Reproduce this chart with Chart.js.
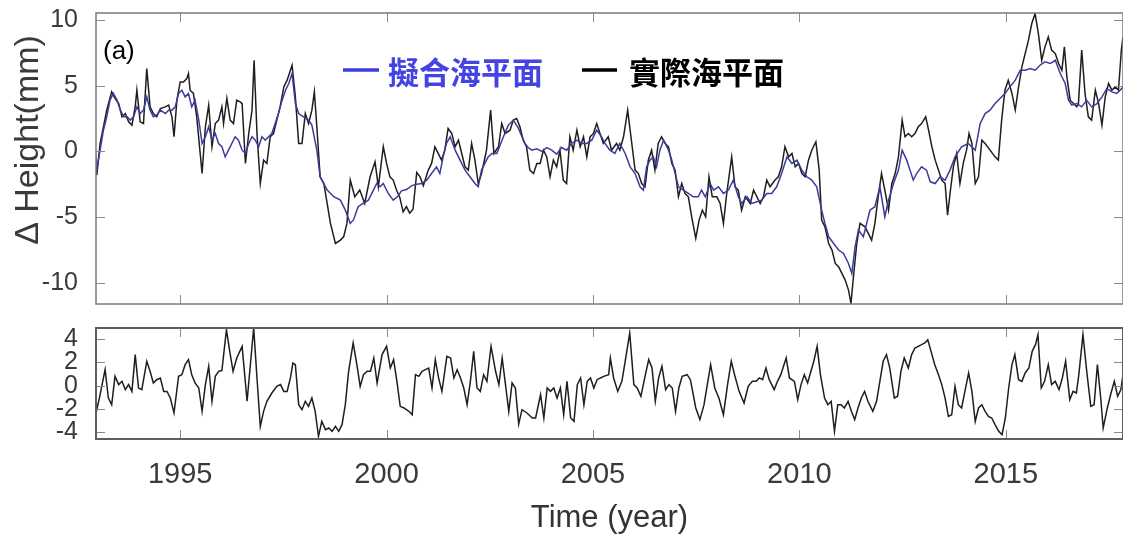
<!DOCTYPE html>
<html>
<head>
<meta charset="utf-8">
<script src="https://cdn.jsdelivr.net/npm/chart.js@4.4.1/dist/chart.umd.min.js"></script>
<style>
  html, body { margin: 0; padding: 0; background: #ffffff; }
  #wrap { position: relative; width: 1123px; height: 546px; overflow: hidden; background: #ffffff; }
  canvas { position: absolute; left: 0; }
  #topPanel { top: 0; }
  #bottomPanel { top: 310px; }
</style>
</head>
<body>
<div id="wrap">
  <canvas id="topPanel" width="1123" height="310"></canvas>
  <canvas id="bottomPanel" width="1123" height="236"></canvas>
</div>
<script>
// ---- axis ticks ----
const yearTicks = [1995, 2000, 2005, 2010, 2015];
const heightTicks = [-10, -5, 0, 5, 10];
const residualTicks = [-4, -2, 0, 2, 4];

// ---- observed sea level (mm) ----
const actualYears = [
  1992.94, 1992.98, 1993.06, 1993.14, 1993.22, 1993.34, 1993.42, 1993.51, 1993.59, 1993.67, 1993.75, 1993.83, 1993.91, 1993.95,
  1994.03, 1994.11, 1994.19, 1994.27, 1994.35, 1994.43, 1994.52, 1994.64, 1994.72, 1994.80, 1994.85, 1994.92,
  1995.00, 1995.08, 1995.16, 1995.20, 1995.24, 1995.32, 1995.40, 1995.53, 1995.61, 1995.69, 1995.77, 1995.85, 1995.93,
  1996.01, 1996.05, 1996.13, 1996.21, 1996.29, 1996.37, 1996.45, 1996.50, 1996.58, 1996.66, 1996.74, 1996.79, 1996.86, 1996.94,
  1997.02, 1997.10, 1997.18, 1997.26, 1997.34, 1997.42, 1997.51, 1997.59, 1997.71, 1997.79, 1997.87, 1997.95,
  1998.03, 1998.11, 1998.19, 1998.25, 1998.31, 1998.39, 1998.48, 1998.56, 1998.64, 1998.76, 1998.88, 1998.96,
  1999.04, 1999.12, 1999.23, 1999.35, 1999.47, 1999.60, 1999.72, 1999.80, 1999.92,
  2000.00, 2000.08, 2000.16, 2000.24, 2000.32, 2000.40, 2000.48, 2000.56, 2000.64, 2000.73, 2000.81, 2000.89,
  2001.01, 2001.09, 2001.17, 2001.25, 2001.33, 2001.41, 2001.49, 2001.58, 2001.66, 2001.74, 2001.82, 2001.90, 2001.98,
  2002.06, 2002.14, 2002.22, 2002.30, 2002.42, 2002.52, 2002.60, 2002.71, 2002.79, 2002.87, 2002.99,
  2003.07, 2003.15, 2003.23, 2003.31, 2003.39, 2003.47, 2003.56, 2003.64, 2003.72, 2003.80, 2003.88, 2003.96,
  2004.04, 2004.12, 2004.20, 2004.28, 2004.36, 2004.44, 2004.52, 2004.61, 2004.69, 2004.77, 2004.85, 2004.93,
  2005.01, 2005.09, 2005.17, 2005.25, 2005.37, 2005.45, 2005.57, 2005.65, 2005.74, 2005.84, 2005.94,
  2006.02, 2006.10, 2006.18, 2006.26, 2006.34, 2006.42, 2006.50, 2006.58, 2006.66, 2006.75, 2006.83, 2006.91, 2006.99,
  2007.07, 2007.15, 2007.23, 2007.31, 2007.39, 2007.49, 2007.57, 2007.65, 2007.73, 2007.81, 2007.89,
  2008.00, 2008.08, 2008.16, 2008.24, 2008.36, 2008.44, 2008.52, 2008.60, 2008.69, 2008.81, 2008.89, 2008.97,
  2009.05, 2009.13, 2009.21, 2009.29, 2009.41, 2009.49, 2009.57, 2009.65, 2009.74, 2009.82, 2009.90, 2009.98,
  2010.06, 2010.14, 2010.22, 2010.30, 2010.40, 2010.48, 2010.54, 2010.62, 2010.71, 2010.79, 2010.87, 2010.95,
  2011.03, 2011.11, 2011.19, 2011.25, 2011.31, 2011.39, 2011.47, 2011.59, 2011.67, 2011.75, 2011.83, 2011.91, 2011.99,
  2012.07, 2012.16, 2012.24, 2012.32, 2012.40, 2012.49, 2012.56, 2012.64, 2012.72, 2012.80, 2012.88, 2012.96,
  2013.06, 2013.13, 2013.21, 2013.29, 2013.37, 2013.45, 2013.53, 2013.59, 2013.65, 2013.73, 2013.81, 2013.89, 2013.97,
  2014.05, 2014.11, 2014.18, 2014.26, 2014.34, 2014.42, 2014.50, 2014.62, 2014.74, 2014.82, 2014.90, 2014.98,
  2015.06, 2015.15, 2015.23, 2015.31, 2015.39, 2015.47, 2015.55, 2015.63, 2015.71, 2015.79, 2015.87, 2015.95,
  2016.03, 2016.11, 2016.20, 2016.28, 2016.36, 2016.42, 2016.48, 2016.56, 2016.64, 2016.72, 2016.76, 2016.84, 2016.92,
  2017.00, 2017.08, 2017.17, 2017.25, 2017.33, 2017.41, 2017.49, 2017.57, 2017.65, 2017.73, 2017.80, 2017.84
];
const actualMm = [
  0.10, -1.80, 0.61, 1.88, 3.15, 4.54, 4.04, 3.65, 2.64, 2.89, 2.26, 2.01, 3.40, 4.67,
  2.26, 2.13, 6.32, 3.40, 2.89, 2.64, 3.27, 3.40, 3.53, 2.64, 1.12, 3.91,
  5.30, 5.30, 5.56, 5.94, 4.67, 4.42, 2.64, -1.68, 1.88, 3.53, 0.36, 2.13, 2.39,
  3.40, 2.13, 4.04, 2.39, 2.13, 3.91, 3.78, 3.65, -0.91, 1.37, 3.15, 6.95, 1.37, -2.44,
  -0.66, -0.91, 1.12, 1.37, 2.39, 3.40, 4.92, 5.43, 6.57, 4.16, 0.61, 0.61,
  2.89, 2.13, 3.15, 4.54, 1.88, -1.93, -2.44, -3.96, -5.48, -7.01, -6.75, -6.50,
  -5.48, -2.18, -3.45, -2.94, -3.96, -1.93, -0.79, -2.69, 0.36,
  -0.91, -1.93, -2.18, -2.94, -3.50, -4.60, -4.20, -4.70, -4.40, -1.60, -1.93, -2.60,
  -1.42, -0.91, 0.36, -0.15, -0.66, 0.10, 1.75, 1.37, 0.36, 0.86, -0.15, -1.17, -1.42,
  0.61, -0.66, -2.44, -1.68, 0.10, 3.15, -0.15, 0.36, 2.13, 1.37, 1.62,
  2.39, 2.51, 1.88, 0.86, 0.36, -1.42, -1.68, -0.91, -0.91, 0.10, -0.41, -1.93,
  -0.66, -1.17, 0.10, -2.18, -2.44, 1.12, 0.10, 1.62, 0.36, 1.12, -0.41, 1.12,
  1.37, 2.13, 1.37, 0.61, 1.12, 0.10, 0.61, 0.10, 1.12, 3.15, 0.61,
  -1.42, -1.68, -2.44, -2.69, -0.66, 0.10, -1.42, 0.61, 1.12, 0.61, 0.36, -0.91, -1.42,
  -3.45, -2.44, -3.20, -3.45, -4.97, -6.62, -5.23, -4.47, -4.97, -1.93, -3.45,
  -3.45, -3.96, -5.48, -3.20, -0.41, -2.69, -2.94, -4.47, -3.45, -3.96, -2.94, -3.45,
  -3.96, -3.45, -2.18, -2.69, -2.18, -1.93, -1.17, 0.36, -0.41, -0.15, -1.17, -0.91,
  -1.68, -1.93, -0.66, 0.10, 0.74, -1.42, -5.23, -5.74, -7.01, -7.51, -8.53, -8.78,
  -9.29, -9.80, -10.56, -11.57, -9.54, -7.01, -5.48, -5.74, -6.24, -6.75, -5.48, -3.45, -1.68,
  -2.94, -4.47, -2.44, -1.68, -0.41, 2.39, 1.12, 1.37, 1.12, 1.37, 1.88, 2.13,
  2.64, 1.62, 0.36, -0.66, -1.42, -2.18, -2.44, -4.85, -3.20, -1.17, -0.15, -2.44, -0.91,
  0.10, 1.37, 0.61, -2.44, -1.93, 0.86, 0.61, 0.10, -0.41, -0.66, 2.39, 4.67,
  5.43, 4.42, 3.15, 4.92, 6.45, 7.46, 8.48, 9.75, 10.51, 8.98, 6.95, 7.97,
  8.73, 7.72, 7.46, 6.70, 6.19, 7.97, 5.69, 3.91, 3.65, 3.40, 3.65, 7.72, 4.42,
  2.64, 2.39, 4.67, 3.65, 2.01, 4.16, 5.18, 4.67, 4.92, 4.67, 7.72, 8.73
];

// ---- fitted sea level (mm) ----
const fittedYears = [
  1992.94, 1992.99, 1993.06, 1993.14, 1993.22, 1993.30, 1993.38, 1993.47, 1993.55, 1993.63, 1993.71, 1993.79, 1993.87, 1993.95,
  1994.03, 1994.11, 1994.19, 1994.27, 1994.35, 1994.43, 1994.52, 1994.64, 1994.72, 1994.80, 1994.88, 1994.96,
  1995.04, 1995.12, 1995.20, 1995.28, 1995.36, 1995.45, 1995.53, 1995.61, 1995.69, 1995.77, 1995.85, 1995.93,
  1996.01, 1996.09, 1996.17, 1996.25, 1996.33, 1996.41, 1996.50, 1996.58, 1996.66, 1996.74, 1996.82, 1996.90, 1996.98,
  1997.06, 1997.14, 1997.22, 1997.30, 1997.38, 1997.47, 1997.55, 1997.63, 1997.71, 1997.79, 1997.87, 1997.99,
  1998.11, 1998.19, 1998.31, 1998.39, 1998.56, 1998.72, 1998.88, 1999.00, 1999.12, 1999.20, 1999.31, 1999.43, 1999.56,
  1999.68, 1999.76, 1999.84, 1999.92, 2000.04, 2000.16, 2000.28, 2000.36, 2000.48, 2000.61, 2000.73, 2000.85, 2000.97,
  2001.09, 2001.21, 2001.29, 2001.37, 2001.45, 2001.54, 2001.66, 2001.78, 2001.90, 2002.02, 2002.14, 2002.22, 2002.30,
  2002.38, 2002.46, 2002.55, 2002.67, 2002.83, 2002.95, 2003.07, 2003.19, 2003.27, 2003.35, 2003.43, 2003.52, 2003.64,
  2003.76, 2003.88, 2004.00, 2004.12, 2004.24, 2004.36, 2004.48, 2004.61, 2004.73, 2004.85, 2004.97, 2005.09, 2005.21,
  2005.29, 2005.41, 2005.53, 2005.65, 2005.78, 2005.90, 2006.02, 2006.14, 2006.22, 2006.30, 2006.38, 2006.46, 2006.54,
  2006.62, 2006.71, 2006.83, 2006.91, 2006.99, 2007.07, 2007.19, 2007.31, 2007.43, 2007.55, 2007.63, 2007.72, 2007.84,
  2007.92, 2008.04, 2008.16, 2008.28, 2008.40, 2008.52, 2008.60, 2008.73, 2008.85, 2008.97, 2009.09, 2009.21, 2009.33,
  2009.45, 2009.57, 2009.70, 2009.82, 2009.94, 2010.06, 2010.18, 2010.30, 2010.42, 2010.54, 2010.62, 2010.71, 2010.83,
  2010.95, 2011.07, 2011.19, 2011.27, 2011.35, 2011.43, 2011.55, 2011.71, 2011.83, 2011.95, 2012.07, 2012.16, 2012.28,
  2012.40, 2012.49, 2012.60, 2012.68, 2012.76, 2012.84, 2012.96, 2013.08, 2013.17, 2013.29, 2013.41, 2013.53, 2013.65,
  2013.77, 2013.93, 2014.09, 2014.26, 2014.38, 2014.50, 2014.62, 2014.74, 2014.86, 2014.98, 2015.10, 2015.23, 2015.35,
  2015.47, 2015.59, 2015.71, 2015.83, 2015.95, 2016.08, 2016.20, 2016.32, 2016.44, 2016.52, 2016.60, 2016.72, 2016.84,
  2016.96, 2017.08, 2017.21, 2017.33, 2017.45, 2017.57, 2017.69, 2017.77, 2017.84
];
const fittedMm = [
  -0.15, -1.17, 0.10, 1.62, 2.64, 3.91, 4.42, 3.91, 3.15, 2.64, 2.64, 2.39, 2.64, 3.40,
  2.89, 3.15, 4.16, 3.15, 2.64, 2.77, 3.15, 2.89, 3.15, 3.15, 3.40, 4.42,
  4.67, 4.16, 4.42, 3.40, 3.91, 2.39, 0.61, 1.12, 1.88, 0.86, 1.37, 0.61,
  0.36, -0.41, 0.10, 0.61, 1.12, 0.86, 0.10, -0.15, 0.61, 1.12, 0.86, 0.36, 1.12,
  0.86, 1.12, 1.37, 2.13, 2.89, 3.91, 4.67, 5.18, 5.94, 3.65, 2.89, 2.64,
  2.39, 2.01, 0.10, -1.93, -2.94, -3.45, -3.71, -4.47, -5.48, -5.20, -4.21, -3.96, -3.71,
  -2.94, -2.44, -2.69, -2.44, -3.20, -3.71, -3.40, -3.00, -2.90, -2.60, -2.50, -2.44, -2.18,
  -1.68, -1.17, -1.68, -0.41, 0.61, 1.12, 0.10, -0.66, -1.42, -1.93, -2.44, -2.69, -1.42,
  -0.91, -0.41, -0.15, -0.15, 1.12, 2.01, 2.39, 1.80, 1.20, 0.60, 0.30, 0.10, 0.20,
  0.00, 0.30, 0.10, -0.20, 0.30, 0.10, 0.61, 0.86, 0.61, 0.61, 0.86, 1.62, 1.12,
  0.61, 0.10, -0.15, 0.61, -0.15, -1.17, -1.68, -2.69, -2.94, -1.17, -0.66, -0.41, -1.17,
  0.10, 0.86, 0.10, -0.66, -1.68, -2.69, -2.94, -3.20, -3.45, -3.45, -2.94, -3.45, -2.44,
  -2.94, -2.69, -3.20, -2.94, -2.18, -3.45, -3.96, -3.45, -3.96, -3.83, -3.71, -3.20, -3.20,
  -2.69, -1.68, -0.41, -0.91, -0.66, -1.42, -1.93, -2.18, -2.69, -4.47, -5.48, -6.50, -7.01,
  -7.51, -7.77, -8.53, -9.29, -7.26, -5.99, -6.50, -4.47, -4.21, -2.69, -4.97, -3.71, -2.44,
  -1.42, 0.10, -0.66, -1.42, -2.18, -1.68, -1.17, -1.42, -2.31, -2.44, -1.93, -2.18, -1.42,
  -0.41, 0.36, 0.61, 0.10, 2.13, 2.89, 3.15, 3.65, 4.04, 4.42, 4.92, 5.43, 6.19,
  6.19, 6.32, 6.19, 6.57, 6.83, 6.70, 6.95, 5.94, 5.18, 3.91, 3.53, 3.65, 3.40,
  3.91, 3.40, 3.65, 4.16, 4.80, 4.54, 4.42, 4.67, 4.92
];

// ---- residual: observed minus fitted (mm) ----
const residualYears = [
  1992.94, 1992.98, 1993.06, 1993.18, 1993.26, 1993.34, 1993.42, 1993.51, 1993.59, 1993.67, 1993.75, 1993.83, 1993.91, 1993.99,
  1994.07, 1994.19, 1994.27, 1994.35, 1994.43, 1994.52, 1994.60, 1994.68, 1994.76, 1994.85, 1994.96,
  1995.04, 1995.12, 1995.20, 1995.28, 1995.36, 1995.45, 1995.53, 1995.61, 1995.69, 1995.77, 1995.85, 1995.93,
  1996.01, 1996.12, 1996.20, 1996.28, 1996.37, 1996.50, 1996.62, 1996.70, 1996.78, 1996.86, 1996.94,
  1997.02, 1997.10, 1997.22, 1997.34, 1997.43, 1997.51, 1997.59, 1997.67, 1997.73, 1997.79, 1997.87, 1997.95,
  1998.03, 1998.11, 1998.19, 1998.27, 1998.35, 1998.43, 1998.52, 1998.60, 1998.68, 1998.76, 1998.84, 1998.92,
  1999.00, 1999.08, 1999.19, 1999.28, 1999.36, 1999.44, 1999.53, 1999.61, 1999.69, 1999.77, 1999.89,
  2000.00, 2000.09, 2000.17, 2000.25, 2000.33, 2000.42, 2000.54, 2000.62, 2000.70, 2000.78, 2000.86, 2000.94,
  2001.02, 2001.10, 2001.18, 2001.26, 2001.34, 2001.46, 2001.55, 2001.63, 2001.71, 2001.79, 2001.87, 2001.95,
  2002.03, 2002.11, 2002.19, 2002.27, 2002.35, 2002.43, 2002.53, 2002.64, 2002.72, 2002.80, 2002.88, 2002.96,
  2003.04, 2003.12, 2003.20, 2003.28, 2003.40, 2003.53, 2003.61, 2003.73, 2003.81, 2003.89, 2003.97,
  2004.05, 2004.13, 2004.21, 2004.29, 2004.37, 2004.46, 2004.54, 2004.62, 2004.70, 2004.78, 2004.86, 2004.94,
  2005.02, 2005.10, 2005.18, 2005.26, 2005.38, 2005.42, 2005.50, 2005.60, 2005.70, 2005.78, 2005.89, 2005.99,
  2006.07, 2006.16, 2006.27, 2006.35, 2006.43, 2006.51, 2006.59, 2006.67, 2006.76, 2006.84, 2006.92,
  2007.00, 2007.08, 2007.16, 2007.28, 2007.36, 2007.49, 2007.59, 2007.69, 2007.77, 2007.85, 2007.95,
  2008.05, 2008.16, 2008.26, 2008.35, 2008.43, 2008.54, 2008.66, 2008.76, 2008.86, 2008.95,
  2009.03, 2009.11, 2009.19, 2009.27, 2009.39, 2009.47, 2009.55, 2009.68, 2009.76, 2009.88, 2009.96,
  2010.04, 2010.12, 2010.20, 2010.28, 2010.35, 2010.43, 2010.51, 2010.61, 2010.69, 2010.77, 2010.85, 2010.93,
  2011.01, 2011.09, 2011.18, 2011.26, 2011.34, 2011.42, 2011.50, 2011.58, 2011.66, 2011.78, 2011.87, 2011.95,
  2012.03, 2012.11, 2012.19, 2012.30, 2012.38, 2012.46, 2012.54, 2012.64, 2012.72, 2012.80, 2012.88, 2012.96,
  2013.04, 2013.11, 2013.19, 2013.28, 2013.37, 2013.45, 2013.53, 2013.61, 2013.69, 2013.77, 2013.85, 2013.93,
  2014.01, 2014.10, 2014.18, 2014.26, 2014.34, 2014.42, 2014.50, 2014.58, 2014.66, 2014.74, 2014.83, 2014.91, 2014.99,
  2015.07, 2015.15, 2015.22, 2015.31, 2015.39, 2015.47, 2015.56, 2015.64, 2015.72, 2015.78, 2015.86, 2015.94,
  2016.03, 2016.11, 2016.20, 2016.29, 2016.37, 2016.45, 2016.55, 2016.63, 2016.71, 2016.77, 2016.87, 2016.97,
  2017.06, 2017.14, 2017.22, 2017.30, 2017.36, 2017.46, 2017.55, 2017.63, 2017.71, 2017.79, 2017.86
];
const residualMm = [
  -0.20, -2.06, -0.77, 1.37, -1.06, -1.63, 0.80, 0.09, 0.37, -0.34, 0.09, -0.49, 2.66, -0.20,
  -0.34, 2.09, 1.23, 0.23, 0.51, 0.66, -0.49, -0.49, -1.06, -2.34, 0.80,
  0.94, 1.80, 2.23, 0.94, 0.23, -0.20, -2.20, 0.09, 1.66, -1.34, 0.80, 1.23,
  1.29, 4.80, 2.94, 1.23, 2.37, 3.37, -1.34, 1.80, 4.94, 0.66, -3.49,
  -2.20, -1.34, -0.63, -0.06, 0.09, -0.49, -0.49, 0.66, 1.94, 1.80, -1.63, -2.06,
  -1.34, -1.77, -1.06, -2.20, -4.34, -3.06, -3.77, -3.63, -3.91, -3.49, -3.91, -3.34,
  -1.63, 1.23, 3.66, 1.80, -0.06, 0.94, 1.23, 1.23, 2.37, 0.23, 2.66,
  3.37, 1.51, 2.23, 0.37, -1.77, -1.91, -2.20, -2.49, 0.94, 0.80, 1.23, 1.37,
  1.51, -0.20, 2.23, 0.66, -0.49, 2.51, 2.37, 0.66, 1.37, 0.66, -0.20, -1.63,
  0.37, 2.94, -0.20, -0.49, 0.94, 0.37, 3.37, 1.23, 0.09, 2.37, 0.09, -2.20,
  0.23, -0.20, -3.29, -2.06, -2.34, -2.77, -2.77, -0.77, -2.77, -0.20, -0.49,
  -0.20, -1.06, -0.20, -2.49, 0.37, -2.77, -3.06, 0.09, 0.66, -1.63, 0.37, 0.66,
  -0.20, 0.51, 0.66, 0.80, 0.94, 2.37, 0.66, -0.49, 0.37, 2.09, 4.51, 0.09,
  -0.20, -0.91, 0.94, 2.23, 1.51, -1.34, 0.66, 1.66, -0.34, 0.09, -0.20,
  -2.20, -0.20, 0.80, 0.94, 0.51, -1.91, -2.91, -1.63, 0.09, 1.80, -0.20,
  -1.06, -2.49, 0.09, 2.09, 0.94, -0.49, -1.49, -0.06, 0.37, 0.37,
  0.66, 0.51, 1.51, 0.51, -0.34, 0.37, 0.94, 2.37, 0.66, 0.37, -1.20,
  0.09, 0.94, 0.23, 1.23, 2.09, 3.37, 0.94, -1.06, -1.63, -1.34, -3.91, -1.63,
  -1.63, -1.91, -1.34, -2.20, -2.91, -1.91, -1.06, -0.49, -1.34, -2.20, -1.34, 0.37,
  2.09, 2.66, 1.51, -1.06, -0.91, 1.23, 2.37, 1.51, 2.66, 3.23, 3.37, 3.51,
  3.66, 3.94, 2.94, 1.80, 0.94, 0.09, -1.06, -2.63, -2.49, -0.06, -1.63, -1.91,
  -0.49, 1.09, -0.49, -3.06, -1.91, -1.63, -2.20, -2.63, -2.77, -3.34, -3.91, -4.20, -2.77,
  -0.20, 1.80, 2.66, 0.51, 0.37, 1.09, 1.51, 2.94, 3.51, 4.37, -0.20, 0.37,
  1.80, 0.09, 0.37, -0.34, 0.66, 2.09, -1.20, -0.49, -0.63, 0.94, 4.37, 0.94,
  -1.77, -1.63, 1.80, -1.06, -3.63, -1.91, -0.63, 0.37, -0.91, -0.34, 1.51
];

// ---- shared time range of both panels ----
const X_MIN = 1992.96;
const X_MAX = 2017.84;

const FONT = "'Liberation Sans', Arial, Helvetica, sans-serif";
const CJK = "'Noto Sans CJK TC', 'Noto Sans CJK SC', sans-serif";
Chart.defaults.font.family = FONT;

function pairs(xs, ys) {
  return xs.map((x, i) => ({ x: x, y: ys[i] }));
}

// Box frame with inward tick marks on all four sides (MATLAB-style axes)
const panelFrame = {
  id: 'panelFrame',
  afterDatasetsDraw(chart, args, opts) {
    const { ctx, chartArea: a, scales } = chart;
    const len = opts.tickLength;
    ctx.save();
    ctx.strokeStyle = opts.tickColor;
    ctx.lineWidth = 1;
    ctx.beginPath();
    for (const v of opts.xTicks) {
      const px = Math.round(scales.x.getPixelForValue(v)) + 0.5;
      ctx.moveTo(px, a.top); ctx.lineTo(px, a.top + len);
      ctx.moveTo(px, a.bottom); ctx.lineTo(px, a.bottom - len);
    }
    for (const v of opts.yTicks) {
      const py = Math.round(scales.y.getPixelForValue(v)) + 0.5;
      ctx.moveTo(a.left, py); ctx.lineTo(a.left + len, py);
      ctx.moveTo(a.right, py); ctx.lineTo(a.right - len, py);
    }
    ctx.stroke();
    ctx.strokeStyle = opts.frameColor;
    ctx.lineWidth = opts.frameWidth;
    ctx.strokeRect(a.left, a.top, a.right - a.left, a.bottom - a.top);
    ctx.restore();
  }
};

// Panel label, legend and vertical axis title of the upper panel
const upperNotes = {
  id: 'upperNotes',
  afterDraw(chart) {
    const ctx = chart.ctx;
    ctx.save();
    ctx.textBaseline = 'middle';
    ctx.textAlign = 'left';
    ctx.fillStyle = '#000000';
    ctx.font = '26px ' + FONT;
    ctx.fillText('(a)', 103, 52);

    // legend
    ctx.lineWidth = 3.5;
    ctx.strokeStyle = '#3c3ce0';
    ctx.beginPath(); ctx.moveTo(343, 70); ctx.lineTo(379, 70); ctx.stroke();
    ctx.font = 'bold 31px ' + CJK;
    ctx.fillStyle = '#4444e4';
    ctx.fillText('擬合海平面', 388, 72);
    ctx.strokeStyle = '#000000';
    ctx.beginPath(); ctx.moveTo(582, 70); ctx.lineTo(617, 70); ctx.stroke();
    ctx.fillStyle = '#000000';
    ctx.fillText('實際海平面', 629, 72);

    // y axis title
    ctx.translate(29, 140);
    ctx.rotate(-Math.PI / 2);
    ctx.textAlign = 'center';
    ctx.fillStyle = '#3a3a3a';
    ctx.font = '34px ' + FONT;
    ctx.fillText('Δ Height(mm)', 0, 0);
    ctx.restore();
  }
};

const tickLabel = v => String(v);

// fixed gutters so both panels share the same plot rectangle edges
function fixLeft(s) { s.width = 96; s.paddingTop = 0; s.paddingBottom = 0; }
function fixBottom(s) { s.height = 107; s.paddingLeft = 0; s.paddingRight = 0; }

new Chart(document.getElementById('topPanel'), {
  type: 'line',
  data: {
    datasets: [
      { label: '擬合海平面', data: pairs(fittedYears, fittedMm), borderColor: '#3b3b9c', borderWidth: 1.5, pointRadius: 0, tension: 0 },
      { label: '實際海平面', data: pairs(actualYears, actualMm), borderColor: '#1e1e1e', borderWidth: 1.5, pointRadius: 0, tension: 0 }
    ]
  },
  options: {
    responsive: false,
    animation: false,
    devicePixelRatio: 1,
    layout: { padding: { left: 0, right: 0, top: 13, bottom: 6 } },
    plugins: {
      legend: { display: false },
      tooltip: { enabled: false },
      panelFrame: { xTicks: yearTicks, yTicks: heightTicks, tickLength: 9, tickColor: '#8a8a8a', frameColor: '#7a7a7a', frameWidth: 1.5 }
    },
    scales: {
      x: { type: 'linear', min: X_MIN, max: X_MAX, display: false },
      y: {
        type: 'linear', min: -11.62, max: 10.55,
        afterFit: fixLeft,
        afterBuildTicks(s) { s.ticks = heightTicks.map(v => ({ value: v })); },
        grid: { display: false },
        border: { display: false },
        ticks: { font: { size: 25 }, color: '#3a3a3a', padding: 10, autoSkip: false, callback: tickLabel }
      }
    }
  },
  plugins: [panelFrame, upperNotes]
});

new Chart(document.getElementById('bottomPanel'), {
  type: 'line',
  data: {
    datasets: [
      { label: 'residual', data: pairs(residualYears, residualMm), borderColor: '#1e1e1e', borderWidth: 1.5, pointRadius: 0, tension: 0 }
    ]
  },
  options: {
    responsive: false,
    animation: false,
    devicePixelRatio: 1,
    layout: { padding: { left: 0, right: 0, top: 18, bottom: 0 } },
    plugins: {
      legend: { display: false },
      tooltip: { enabled: false },
      panelFrame: { xTicks: yearTicks, yTicks: residualTicks, tickLength: 9, tickColor: '#8a8a8a', frameColor: '#5e5e5e', frameWidth: 2 }
    },
    scales: {
      x: {
        type: 'linear', position: 'bottom', min: X_MIN, max: X_MAX,
        afterFit: fixBottom,
        afterBuildTicks(s) { s.ticks = yearTicks.map(v => ({ value: v })); },
        grid: { display: false },
        border: { display: false },
        ticks: { font: { size: 29 }, color: '#3a3a3a', padding: 11, maxRotation: 0, autoSkip: false, callback: tickLabel },
        title: { display: true, text: 'Time (year)', font: { size: 31 }, color: '#333333', padding: { top: 0, bottom: 9 } }
      },
      y: {
        type: 'linear', min: -4.57, max: 4.94,
        afterFit: fixLeft,
        afterBuildTicks(s) { s.ticks = residualTicks.map(v => ({ value: v })); },
        grid: { display: false },
        border: { display: false },
        ticks: { font: { size: 25 }, color: '#3a3a3a', padding: 10, autoSkip: false, callback: tickLabel }
      }
    }
  },
  plugins: [panelFrame]
});
</script>
</body>
</html>
